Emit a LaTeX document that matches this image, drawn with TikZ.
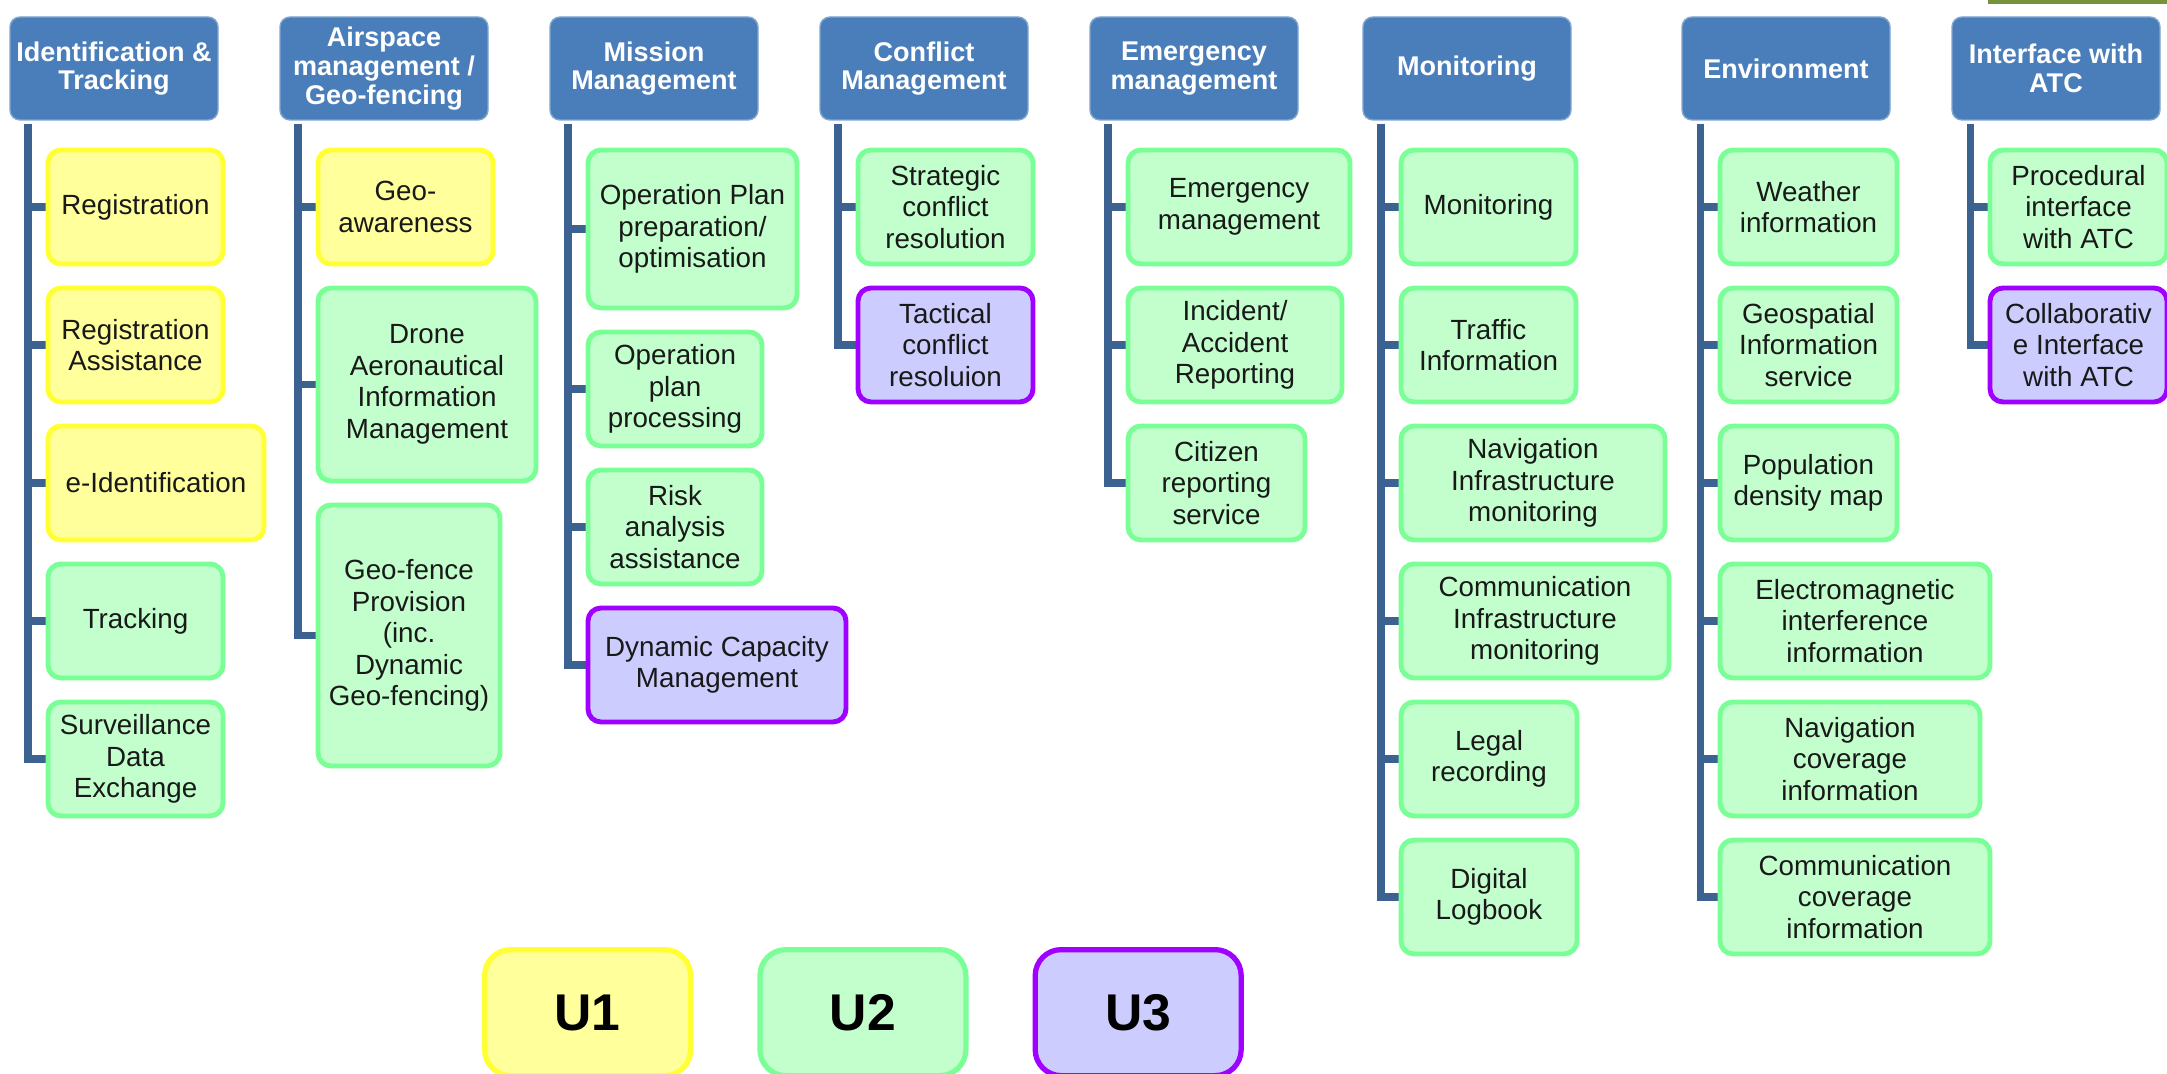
\documentclass[tikz,border=0pt]{standalone}
\usepackage{fontspec}
\setmainfont{Liberation Sans}
\usetikzlibrary{positioning,backgrounds}
\definecolor{hdrblue}{HTML}{4A7EBB}
\definecolor{trunkblue}{HTML}{3B6291}
\definecolor{uonefill}{HTML}{FFFF9C}
\definecolor{uoneline}{HTML}{FFFF33}
\definecolor{utwofill}{HTML}{C2FFCC}
\definecolor{utwoline}{HTML}{7AFF96}
\definecolor{uthreefill}{HTML}{CCCCFF}
\definecolor{uthreeline}{HTML}{A000FF}
\definecolor{stripgreen}{HTML}{76933C}

\tikzset{
  hdrbox/.style={fill=hdrblue,draw=hdrblue!70!white,line width=0.4pt,rounded corners=1mm,
    minimum width=20.8mm,minimum height=10.3mm,inner sep=0pt,outer sep=0pt,align=center,
    text=white,font=\fontsize{7.7}{8.2}\selectfont\bfseries},
  fnbox/.style={rounded corners=1.3mm,line width=1.4pt,minimum height=11.4mm,inner sep=0pt,
    outer sep=0pt,align=center,text=black!90,font=\fontsize{7.9}{9}\selectfont},
  uone/.style={fnbox,fill=uonefill,draw=uoneline},
  utwo/.style={fnbox,fill=utwofill,draw=utwoline},
  uthree/.style={fnbox,fill=uthreefill,draw=uthreeline},
  firstfn/.style={below right=3mm and 3.8mm of #1.south west},
  nxt/.style={below=2.4mm of #1.south west,anchor=north west},
  trunk/.style={draw=trunkblue,line width=2pt},
  legbox/.style={rounded corners=2.6mm,line width=1.5pt,minimum width=20.6mm,minimum height=12.6mm,
    inner sep=0pt,font=\fontsize{14.7}{16}\selectfont\bfseries}
}

\begin{document}
\begin{tikzpicture}[x=0.1mm,y=-0.1mm]
    \useasboundingbox (0,0) rectangle (2167,1074);
    \fill[stripgreen] (1988,0) rectangle (2167,4);

    % headers
    \node[hdrbox,anchor=north west] (h1) at (10,17) {Identification \&\\Tracking};
    \node[hdrbox,right=6.2mm of h1] (h2) {Airspace\\management /\\Geo-fencing};
    \node[hdrbox,right=6.2mm of h2] (h3) {Mission\\Management};
    \node[hdrbox,right=6.2mm of h3] (h4) {Conflict\\Management};
    \node[hdrbox,right=6.2mm of h4] (h5) {Emergency\\management};
    \node[hdrbox,right=6.5mm of h5] (h6) {Monitoring};
    \node[hdrbox,right=11.1mm of h6] (h7) {Environment};
    \node[hdrbox,right=6.2mm of h7] (h8) {Interface with\\ATC};

    % identification & tracking
    \node[uone,minimum width=17.5mm,firstfn=h1] (reg) {Registration};
    \node[uone,minimum width=17.5mm,nxt=reg] (rega) {Registration\\Assistance};
    \node[uone,minimum width=21.6mm,nxt=rega] (eid) {e-Identification};
    \node[utwo,minimum width=17.5mm,nxt=eid] (trk) {Tracking};
    \node[utwo,minimum width=17.5mm,nxt=trk] (sde) {Surveillance\\Data\\Exchange};

    % airspace management
    \node[uone,minimum width=17.5mm,firstfn=h2] (geoaw) {Geo-\\awareness};
    \node[utwo,minimum width=21.8mm,minimum height=19.3mm,nxt=geoaw] (daim)
      {Drone\\Aeronautical\\Information\\Management};
    \node[utwo,minimum width=18.2mm,minimum height=26.1mm,nxt=daim] (gfp)
      {Geo-fence\\Provision\\(inc.\\Dynamic\\Geo-fencing)};

    % mission management
    \node[utwo,minimum width=20.9mm,minimum height=15.8mm,firstfn=h3] (opp)
      {Operation Plan\\preparation/\\optimisation};
    \node[utwo,minimum width=17.4mm,nxt=opp] (oppr) {Operation\\plan\\processing};
    \node[utwo,minimum width=17.4mm,nxt=oppr] (risk) {Risk\\analysis\\assistance};
    \node[uthree,minimum width=25.8mm,nxt=risk] (dcm) {Dynamic Capacity\\Management};

    % conflict management
    \node[utwo,minimum width=17.5mm,firstfn=h4] (scr) {Strategic\\conflict\\resolution};
    \node[uthree,minimum width=17.5mm,nxt=scr] (tcr) {Tactical\\conflict\\resoluion};

    % emergency management
    \node[utwo,minimum width=22.2mm,firstfn=h5] (emm) {Emergency\\management};
    \node[utwo,minimum width=21.4mm,nxt=emm] (inc) {Incident/\\Accident\\Reporting};
    \node[utwo,minimum width=17.7mm,nxt=inc] (cit) {Citizen\\reporting\\service};

    % monitoring
    \node[utwo,minimum width=17.5mm,firstfn=h6] (mon) {Monitoring};
    \node[utwo,minimum width=17.5mm,nxt=mon] (trf) {Traffic\\Information};
    \node[utwo,minimum width=26.4mm,nxt=trf] (nim) {Navigation\\Infrastructure\\monitoring};
    \node[utwo,minimum width=26.8mm,nxt=nim] (cim) {Communication\\Infrastructure\\monitoring};
    \node[utwo,minimum width=17.6mm,nxt=cim] (leg) {Legal\\recording};
    \node[utwo,minimum width=17.6mm,nxt=leg] (dlb) {Digital\\Logbook};

    % environment
    \node[utwo,minimum width=17.7mm,firstfn=h7] (wea) {Weather\\information};
    \node[utwo,minimum width=17.7mm,nxt=wea] (geo) {Geospatial\\Information\\service};
    \node[utwo,minimum width=17.7mm,nxt=geo] (pop) {Population\\density map};
    \node[utwo,minimum width=27mm,nxt=pop] (emi) {Electromagnetic\\interference\\information};
    \node[utwo,minimum width=26mm,nxt=emi] (ncov) {Navigation\\coverage\\information};
    \node[utwo,minimum width=27mm,nxt=ncov] (ccov) {Communication\\coverage\\information};

    % interface with ATC
    \node[utwo,minimum width=17.7mm,firstfn=h8] (proc) {Procedural\\interface\\with ATC};
    \node[uthree,minimum width=17.7mm,nxt=proc] (coll) {Collaborativ\\e Interface\\with ATC};

    % trunks
    \foreach \h in {h1,h2,h3,h4,h5,h6,h7,h8}
      \coordinate (t\h) at ([xshift=1.8mm,yshift=-0.4mm]\h.south west);
    \begin{scope}[on background layer]
      \foreach \c in {reg,rega,eid,trk,sde} \draw[trunk] (th1) |- (\c.west);
      \foreach \c in {geoaw,daim,gfp} \draw[trunk] (th2) |- (\c.west);
      \foreach \c in {opp,oppr,risk,dcm} \draw[trunk] (th3) |- (\c.west);
      \foreach \c in {scr,tcr} \draw[trunk] (th4) |- (\c.west);
      \foreach \c in {emm,inc,cit} \draw[trunk] (th5) |- (\c.west);
      \foreach \c in {mon,trf,nim,cim,leg,dlb} \draw[trunk] (th6) |- (\c.west);
      \foreach \c in {wea,geo,pop,emi,ncov,ccov} \draw[trunk] (th7) |- (\c.west);
      \foreach \c in {proc,coll} \draw[trunk] (th8) |- (\c.west);
    \end{scope}

    % legend
    \node[legbox,fill=uonefill,draw=uoneline,anchor=north west] (leg1) at (482,947) {U1};
    \node[legbox,fill=utwofill,draw=utwoline,right=6.4mm of leg1] (leg2) {U2};
    \node[legbox,fill=uthreefill,draw=uthreeline,right=6.4mm of leg2] (leg3) {U3};
\end{tikzpicture}
\end{document}
